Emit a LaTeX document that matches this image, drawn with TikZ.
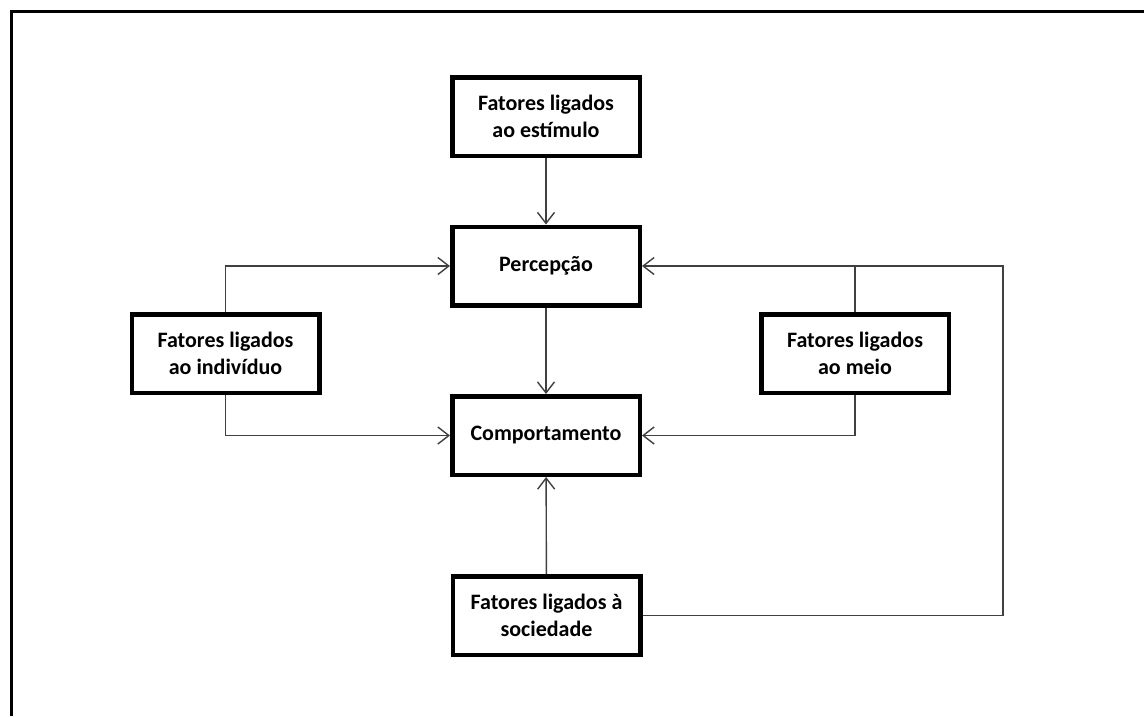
\documentclass[tikz,border=0pt]{standalone}
\usepackage{fontspec}
\setmainfont{Carlito}
\usepackage{tikz}
\usetikzlibrary{arrows.meta,positioning}

\tikzset{
  factor/.style={draw, line width=4.5pt, fill=white, align=center,
    minimum width=187.5pt, minimum height=78.5pt, inner sep=2pt,
    font=\fontsize{22}{27}\selectfont\bfseries},
  link/.style={draw=black!75, line width=1.4pt},
  frame/.style={line width=3pt}
}

\begin{document}
\begin{tikzpicture}[x=1pt, y=-1pt, >={Straight Barb[length=11pt,width=17pt,line width=1.4pt]}]

  \useasboundingbox (0,0) rectangle (1144,716);
  \draw[frame] (11,716) -- (11,11) -- (1144,11);

  % Define coordinates for nodes
  \node[factor] (estimulo) at (546,116.5) {Fatores ligados\\ao estímulo};
  \node[factor] (percepcao) at (546,266) {Percepção};
  \node[factor] (comport) at (546,435.5) {Comportamento};
  \node[factor] (individuo) at (225.5,353.5) {Fatores ligados\\ao indivíduo};
  \node[factor] (meio) at (855,353.5) {Fatores ligados\\ao meio};
  \node[factor] (sociedade) at (546.5,615.5) {Fatores ligados à\\sociedade};
  \coordinate (retorno) at (1003,266);

  % Draw arrows between nodes
  \draw[link,->] (estimulo) -- (percepcao);
  \draw[link,->] (percepcao) -- (comport);
  \draw[link,->] (sociedade) -- (comport);
  \draw[link,->] (individuo.north) |- (percepcao.west);
  \draw[link,->] (individuo.south) |- (comport.west);
  \draw[link,->] (meio.south) |- (comport.east);
  \draw[link,->] (sociedade.east) -| (retorno) -- (percepcao.east);
  \draw[link] (meio.north) -- (meio.north |- retorno);
\end{tikzpicture}
\end{document}
